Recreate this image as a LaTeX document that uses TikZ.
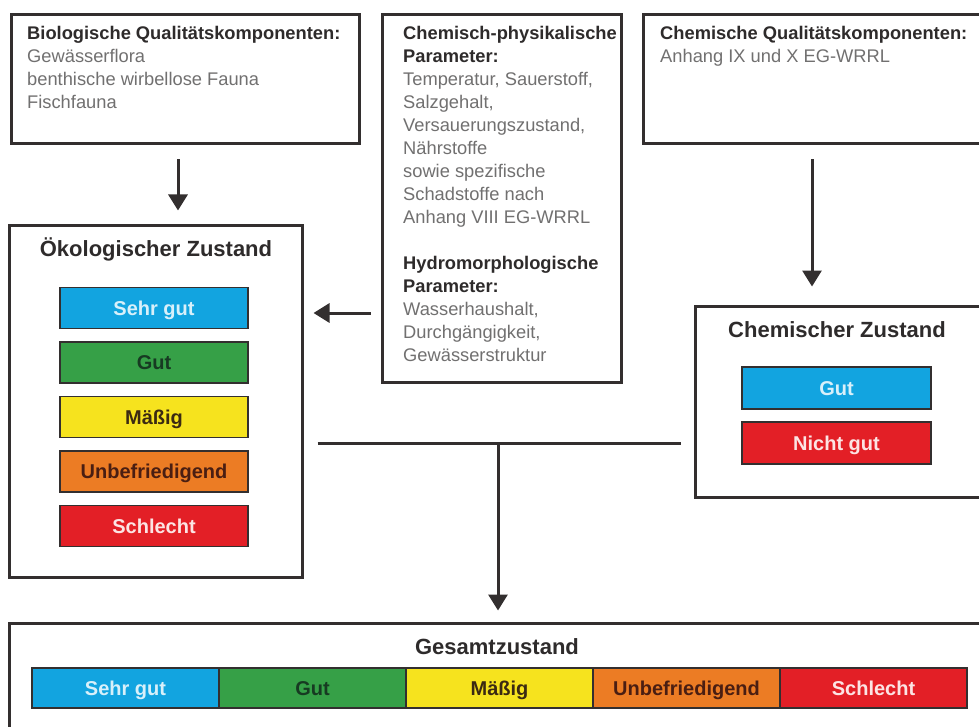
\documentclass[tikz,border=0pt]{standalone}
\usepackage{fontspec}
\setmainfont{Liberation Sans}
\usepackage{xcolor}
\usepackage{tikz}
\usetikzlibrary{arrows.meta,positioning,calc}

\definecolor{framegray}{HTML}{332F2F}
\definecolor{headgray}{HTML}{2E2B2B}
\definecolor{bodygray}{HTML}{717070}
\definecolor{sehrgut}{HTML}{12A4E0}
\definecolor{gut}{HTML}{36A047}
\definecolor{maessig}{HTML}{F6E31E}
\definecolor{unbefr}{HTML}{EC7C24}
\definecolor{schlecht}{HTML}{E31F26}
\definecolor{sehrgutink}{HTML}{D8F0FA}
\definecolor{gutink}{HTML}{173A22}
\definecolor{maessigink}{HTML}{3B2A12}
\definecolor{unbefrink}{HTML}{4A1E12}
\definecolor{schlechtink}{HTML}{FCE4E4}

\newcommand\rubrik[1]{{\color{headgray}\bfseries #1}}

\begin{document}
\begin{tikzpicture}[x=1pt,y=-1pt,
		frame/.style={draw=framegray, line width=3pt, inner sep=0pt},
		info/.style={anchor=north west, align=left, inner sep=0pt, text=bodygray, font=\fontsize{18.3}{23}\selectfont},
		title/.style={text=headgray, inner sep=0pt, font=\fontsize{22}{26}\selectfont\bfseries},
		bar/.style={draw=framegray, line width=1.2pt, inner sep=0pt, text height=14.3pt, text depth=0pt, font=\fontsize{20}{24}\selectfont\bfseries},
		arrow/.style={draw=framegray, line width=3pt, -{Triangle[length=16pt,width=19pt]}},
		link/.style={draw=framegray, line width=3pt}]
		\useasboundingbox (0,0) rectangle (979,727);
		\fill[white] (0,0) rectangle (979,727);
		\clip (0,0) rectangle (979,727);

		% frames
		\node[frame, minimum width=348, minimum height=129] (bio) at (185,79.5) {};
		\node[frame, minimum width=239, minimum height=367] (chemphys) at (501.5,198.5) {};
		\node[frame, minimum width=347, minimum height=129] (chemqual) at (816.5,79.5) {};
		\node[frame, minimum width=293, minimum height=351] (oeko) at (155.5,401.5) {};
		\node[frame, minimum width=295, minimum height=191] (chemzust) at (842.5,401.5) {};
		\node[frame, minimum width=981, minimum height=117] (gesamt) at (499.5,681.5) {};

		% texts in the upper frames
		\node[info] (bio-text) at (27,26) {\rubrik{Biologische Qualitätskomponenten:}\\Gewässerflora\\benthische wirbellose Fauna\\Fischfauna};
		\node[info] (chemphys-text) at (403,26) {\rubrik{Chemisch-physikalische}\\\rubrik{Parameter:}\\Temperatur, Sauerstoff,\\Salzgehalt,\\Versauerungszustand,\\Nährstoffe\\sowie spezifische\\Schadstoffe nach\\Anhang VIII EG-WRRL\\[23pt]\rubrik{Hydromorphologische}\\\rubrik{Parameter:}\\Wasserhaushalt,\\Durchgängigkeit,\\Gewässerstruktur};
		\node[info] (chemqual-text) at (660,26) {\rubrik{Chemische Qualitätskomponenten:}\\Anhang IX und X EG-WRRL};

		% titles
		\node[title] (oeko-title) at (156,249) {Ökologischer Zustand};
		\node[title] (chemzust-title) at (837,330) {Chemischer Zustand};
		\node[title] (gesamt-title) at (497,647) {Gesamtzustand};

		% class bars
		\foreach \txt/\col [count=\i from 0] in {Sehr gut/sehrgut, Gut/gut, Mäßig/maessig, Unbefriedigend/unbefr, Schlecht/schlecht} {
			\node[bar, fill=\col, text=\col ink, minimum width=188, minimum height=41] (oeko-\i) at (154,308+54.5*\i) {\txt};
			\node[bar, fill=\col, text=\col ink, minimum width=187, minimum height=40] (gesamt-\i) at (125.5+187*\i,688) {\txt};
		}
		\node[bar, fill=sehrgut, text=sehrgutink, minimum width=189, minimum height=42] (chem-gut) at (836.5,388) {Gut};
		\node[bar, fill=schlecht, text=schlechtink, minimum width=189, minimum height=42] (chem-nichtgut) at (836.5,443) {Nicht gut};

		% connectors
		\coordinate (bioarrow) at (178,0);
		\coordinate (chemarrow) at (812,0);
		\coordinate (sidearrow) at (0,313);
		\coordinate (knot) at (498,443);
		\draw[arrow, shorten <=14pt, shorten >=14pt] (bio.south -| bioarrow) -- (oeko.north -| bioarrow);
		\draw[arrow, shorten <=14pt, shorten >=18pt] (chemqual.south -| chemarrow) -- (chemzust.north -| chemarrow);
		\draw[arrow, shorten <=10pt, shorten >=10pt] (chemphys.west |- sidearrow) -- (oeko.east |- sidearrow);
		\draw[link] ([xshift=14pt]oeko.east |- knot) -- ([xshift=-13pt]chemzust.west |- knot);
		\draw[arrow, shorten >=11pt] (knot) -- (gesamt.north -| knot);
	\end{tikzpicture}
\end{document}
